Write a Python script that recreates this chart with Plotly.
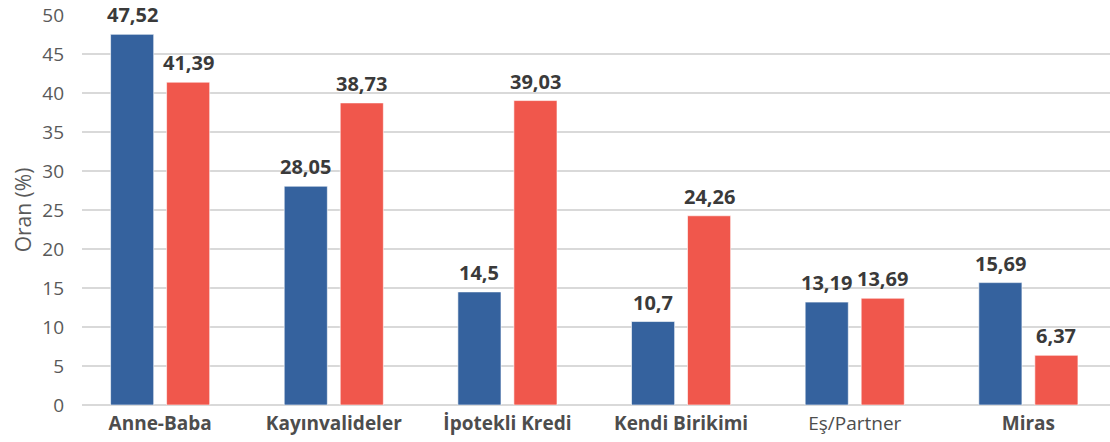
import plotly.graph_objects as go

categories = ["Anne-Baba", "Kayınvalideler", "İpotekli Kredi", "Kendi Birikimi", "Eş/Partner", "Miras"]
tick_labels = ["<b>Anne-Baba</b>", "<b>Kayınvalideler</b>", "<b>İpotekli Kredi</b>",
               "<b>Kendi Birikimi</b>", "Eş/Partner", "<b>Miras</b>"]
series_blue = [47.52, 28.05, 14.5, 10.7, 13.19, 15.69]
series_red = [41.39, 38.73, 39.03, 24.26, 13.69, 6.37]
y_ticks = list(range(0, 55, 5))

BLUE = "#35629e"
RED = "#f0574c"
FONT = "'Open Sans', sans-serif"


def _fmt(v):
    return str(v).replace(".", ",")


fig = go.Figure()
for vals, color in [(series_blue, BLUE), (series_red, RED)]:
    fig.add_trace(go.Bar(
        x=categories, y=vals,
        marker=dict(color=color, line=dict(color="rgba(255,255,255,0.6)", width=1)),
        showlegend=False,
        hovertemplate="%{x}: %{y}<extra></extra>",
    ))

# value labels above bars (blue left, red right within each group)
for vals, shift in [(series_blue, -28), (series_red, 28)]:
    for cat, v in zip(categories, vals):
        fig.add_annotation(
            x=cat, y=v, text=f"<b>{_fmt(v)}</b>",
            showarrow=False, yanchor="bottom", xshift=shift, yshift=4,
            font=dict(size=20, color="#3a3a3a", family=FONT),
        )

fig.update_layout(
    width=1110, height=442,
    margin=dict(l=82, r=0, t=15, b=37),
    plot_bgcolor="white", paper_bgcolor="white",
    barmode="group", bargap=0.355, bargroupgap=0.23,
    font=dict(family=FONT, color="#595959"),
)
fig.update_xaxes(
    tickvals=categories, ticktext=tick_labels,
    range=[-0.45, 5.47],
    tickfont=dict(size=19, color="#4d4d4d"),
    showgrid=False, showline=False, zeroline=False,
    ticks="", ticklabelstandoff=5,
)
fig.update_yaxes(
    range=[0, 50], tickvals=y_ticks,
    tickfont=dict(size=19, color="#595959"),
    gridcolor="#d9d9d9", gridwidth=2,
    zeroline=True, zerolinecolor="#d9d9d9", zerolinewidth=2,
    showline=False, ticks="", ticklabelstandoff=17,
    title=dict(text="Oran (%)", font=dict(size=21, color="#595959"), standoff=4),
)

fig.write_html("out.html", config={"displayModeBar": False},
               post_script="document.body.style.margin='0';")
